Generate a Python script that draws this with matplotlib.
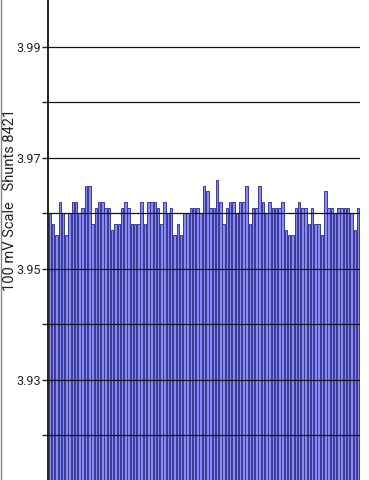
import matplotlib
matplotlib.use("Agg")
import matplotlib.pyplot as plt
from matplotlib.lines import Line2D

values = [
    3.960, 3.958, 3.956, 3.962, 3.960, 3.956, 3.960, 3.962, 3.962, 3.960, 3.961, 3.965, 3.965, 3.958, 3.961, 3.962,
    3.962, 3.961, 3.961, 3.957, 3.958, 3.958, 3.961, 3.962, 3.961, 3.958, 3.958, 3.958, 3.962, 3.958, 3.962,
    3.962, 3.962, 3.961, 3.958, 3.962, 3.960, 3.961, 3.956, 3.958, 3.956, 3.960, 3.960, 3.961, 3.961, 3.961, 3.960, 3.965, 3.964,
    3.961, 3.961, 3.966, 3.962, 3.958, 3.961, 3.962, 3.962, 3.960, 3.962, 3.962, 3.965, 3.958, 3.961, 3.961, 3.965,
    3.962, 3.960, 3.962, 3.961, 3.961, 3.961, 3.962, 3.957, 3.956, 3.956, 3.961, 3.962, 3.961, 3.961, 3.958, 3.961,
    3.958, 3.958, 3.956, 3.964, 3.961, 3.961, 3.960, 3.961, 3.961, 3.961, 3.961, 3.960, 3.957, 3.961,
]
ytick_values = [3.92, 3.93, 3.94, 3.95, 3.96, 3.97, 3.98, 3.99]
ytick_labels = ["", "3.93", "", "3.95", "", "3.97", "", "3.99"]
ylabel = "100 mV Scale   Shunts 8421"

plt.rcParams['font.family'] = ['Roboto', 'DejaVu Sans']

fig = plt.figure(figsize=(3.69, 4.80), dpi=100)
ax = fig.add_axes([48/369, 0.0, 312/369, 1.0])

base = 3.90
x = list(range(len(values)))
ax.bar(x, [v - base for v in values], bottom=base, width=0.76,
       color='#8a8af4', edgecolor='#3a3a96', linewidth=0.7, zorder=2)

ax.set_ylim(3.91188, 3.99848)
ax.set_xlim(-0.6, len(values) - 0.4)
ax.set_yticks(ytick_values)
ax.set_yticklabels(ytick_labels, fontsize=9, color='#222222')
ax.tick_params(axis='y', direction='out', length=4.3, width=1, color='#222222', pad=0.8)
ax.set_xticks([])
ax.grid(axis='y', color='#111111', linewidth=0.9, zorder=3)
ax.set_axisbelow(False)
for s in ['top', 'right', 'bottom']:
    ax.spines[s].set_visible(False)
ax.spines['left'].set_linewidth(1.3)
ax.spines['left'].set_color('#111111')
ax.spines['left'].set_zorder(4)

fig.text(10/369, 1 - 200/480, ylabel, rotation=90, ha='center', va='center',
         fontsize=10.5, color='#222222')
fig.add_artist(Line2D([0.0015, 0.0015], [0, 1], transform=fig.transFigure, color='#888888', linewidth=1))

fig.savefig("out.png", dpi=100)
